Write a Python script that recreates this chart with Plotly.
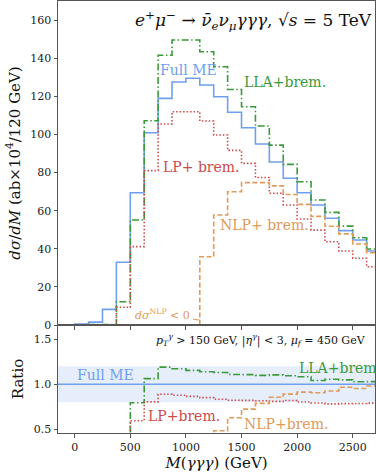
import numpy as np
import plotly.graph_objects as go
from plotly.subplots import make_subplots

# ---------------- data ----------------
bin_edges = list(range(0, 2751, 125))  # 22 bins of 125 GeV
full_me = [0.5, 1.5, 8.2, 32.9, 69.4, 100.9, 118.9, 127.5, 129.5, 125.9, 119.8,
           111.6, 103.5, 95.0, 85.5, 77.0, 69.4, 63.0, 56.0, 49.5, 44.6, 38.8]
lla_brem = [None, 0.3, 0.3, 12.2, 55.1, 107.2, 141.5, 149.5, 149.5, 143.4, 135.5,
            123.6, 114.5, 104.4, 94.4, 84.3, 75.2, 65.6, 59.1, 51.9, 45.8, 39.9]
lp_brem = [None, None, None, 9.3, 41.1, 81.0, 105.5, 111.9, 111.9, 107.0, 99.7,
           91.6, 84.8, 77.4, 69.1, 63.0, 55.6, 49.8, 43.7, 38.8, 35.0, 30.6]
nlp_brem = [None, None, None, None, None, None, None, None, None, 35.8, 57.7,
            69.9, 74.7, 74.7, 73.0, 68.5, 63.3, 57.0, 51.8, 47.8, 42.5, 38.0]

x_ticks = [0, 500, 1000, 1500, 2000, 2500]
y_ticks_top = [0, 20, 40, 60, 80, 100, 120, 140, 160]
y_ticks_ratio = [0.5, 1.0, 1.5]

C_BLUE = "#6f9ff0"
C_GREEN = "#3a9a3a"
C_RED = "#cc4b4b"
C_ORANGE = "#e09a5a"
FONT = "'DejaVu Serif', 'Liberation Serif', serif"


def first_idx(vals):
    return next(i for i, v in enumerate(vals) if v is not None)


def step_xy(vals):
    i0 = first_idx(vals)
    xs = [bin_edges[i0]] + bin_edges[i0:]
    ys = [0] + vals[i0:] + [vals[-1]]
    return xs, ys


def ratio_xy(vals):
    i0 = first_idx(vals)
    r = [v / f for v, f in zip(vals[i0:], full_me[i0:])]
    xs = bin_edges[i0:]
    ys = r + [r[-1]]
    return xs, ys


fig = make_subplots(rows=2, cols=1, shared_xaxes=True,
                    row_heights=[0.75, 0.25], vertical_spacing=0)

series = [
    (full_me, C_BLUE, "solid"),
    (lla_brem, C_GREEN, "7px,2.5px,1.5px,2.5px"),
    (lp_brem, C_RED, "1.5px,2px"),
    (nlp_brem, C_ORANGE, "5px,2.5px"),
]
for vals, col, dash in series:
    xs, ys = step_xy(vals)
    fig.add_trace(go.Scatter(x=xs, y=ys, mode="lines", line_shape="hv",
                             line=dict(color=col, width=1.6, dash=dash),
                             showlegend=False, hoverinfo="skip"), row=1, col=1)

# ratio band and Full ME line
fig.add_shape(type="rect", xref="x2 domain", yref="y2", x0=0, x1=1, y0=0.8, y1=1.2,
              fillcolor="rgba(100,149,237,0.16)", line_width=0, layer="below")
fig.add_shape(type="line", xref="x2 domain", yref="y2", x0=0, x1=1, y0=1.0, y1=1.0,
              line=dict(color=C_BLUE, width=1.4))

for vals, col, dash in series[1:]:
    xs, ys = ratio_xy(vals)
    fig.add_trace(go.Scatter(x=xs, y=ys, mode="lines", line_shape="hv",
                             line=dict(color=col, width=1.6, dash=dash),
                             showlegend=False, hoverinfo="skip"), row=2, col=1)

ann = []


def label(text, x, y, col, size, xref="x", yref="y", xanchor="left"):
    ann.append(dict(text=text, x=x, y=y, xref=xref, yref=yref, showarrow=False,
                    xanchor=xanchor, yanchor="middle",
                    font=dict(family=FONT, size=size, color=col)))


label("<i>e</i><sup>+</sup><i>μ</i><sup>−</sup> → <i>ν̄</i><sub><i>e</i></sub>"
      "<i>ν</i><sub><i>μ</i></sub><i>γγγ</i>, √<i>s</i> = 5 TeV",
      2690, 160, "#111", 17, xanchor="right")
label("Full ME", 745, 134, C_BLUE, 14)
label("LLA+brem.", 1500, 127.5, C_GREEN, 14)
label("LP+ brem.", 772, 83, C_RED, 14)
label("NLP+ brem.", 1290, 52.5, C_ORANGE, 14)
label("<i>dσ</i><sup>NLP</sup> &lt; 0", 520, 5.5, C_ORANGE, 11)

label("<i>p</i><sub><i>T</i></sub><sup><i>γ</i></sup> &gt; 150 GeV, |<i>η</i><sup><i>γ</i></sup>| &lt; 3, "
      "<i>μ</i><sub><i>f</i></sub> = 450 GeV", 2640, 1.49, "#111", 11,
      xref="x2", yref="y2", xanchor="right")
label("Full ME", 5, 1.10, C_BLUE, 14, xref="x2", yref="y2")
label("LLA+brem.", 2000, 1.185, C_GREEN, 14, xref="x2", yref="y2")
label("LP+brem.", 645, 0.645, C_RED, 14, xref="x2", yref="y2")
label("NLP+brem.", 1500, 0.555, C_ORANGE, 14, xref="x2", yref="y2")

fig.add_shape(type="line", xref="x", yref="y", x0=1065, y0=3.0, x1=1125, y1=2.6,
              line=dict(color=C_ORANGE, width=1))

AX = "#555555"
common = dict(showline=True, linecolor=AX, linewidth=1, mirror=True,
              ticks="outside", ticklen=3.5, tickcolor=AX, tickwidth=1,
              showgrid=False, zeroline=False,
              tickfont=dict(family=FONT, size=11, color="#222"))

fig.update_xaxes(range=[-150, 2700], tickvals=x_ticks, **common)
fig.update_xaxes(showticklabels=False, row=1, col=1)
fig.update_xaxes(title=dict(text="<i>M</i>(<i>γγγ</i>) (GeV)", standoff=4,
                            font=dict(family=FONT, size=15, color="#111")), row=2, col=1)
fig.update_yaxes(range=[0, 170], tickvals=y_ticks_top, row=1, col=1,
                 title=dict(text="<i>dσ</i>/<i>dM</i> (ab×10<sup>4</sup>/120 GeV)",
                            standoff=6, font=dict(family=FONT, size=15, color="#111")),
                 **common)
fig.update_yaxes(range=[0.456, 1.66], tickvals=y_ticks_ratio,
                 ticktext=["0.5", "1.0", "1.5"], row=2, col=1,
                 title=dict(text="Ratio", standoff=6,
                            font=dict(family=FONT, size=15, color="#111")),
                 **common)

fig.update_layout(width=376, height=472, margin=dict(l=58, r=1, t=1, b=39),
                  paper_bgcolor="white", plot_bgcolor="white",
                  annotations=ann, font=dict(family=FONT))

fig.write_html("out.html")
